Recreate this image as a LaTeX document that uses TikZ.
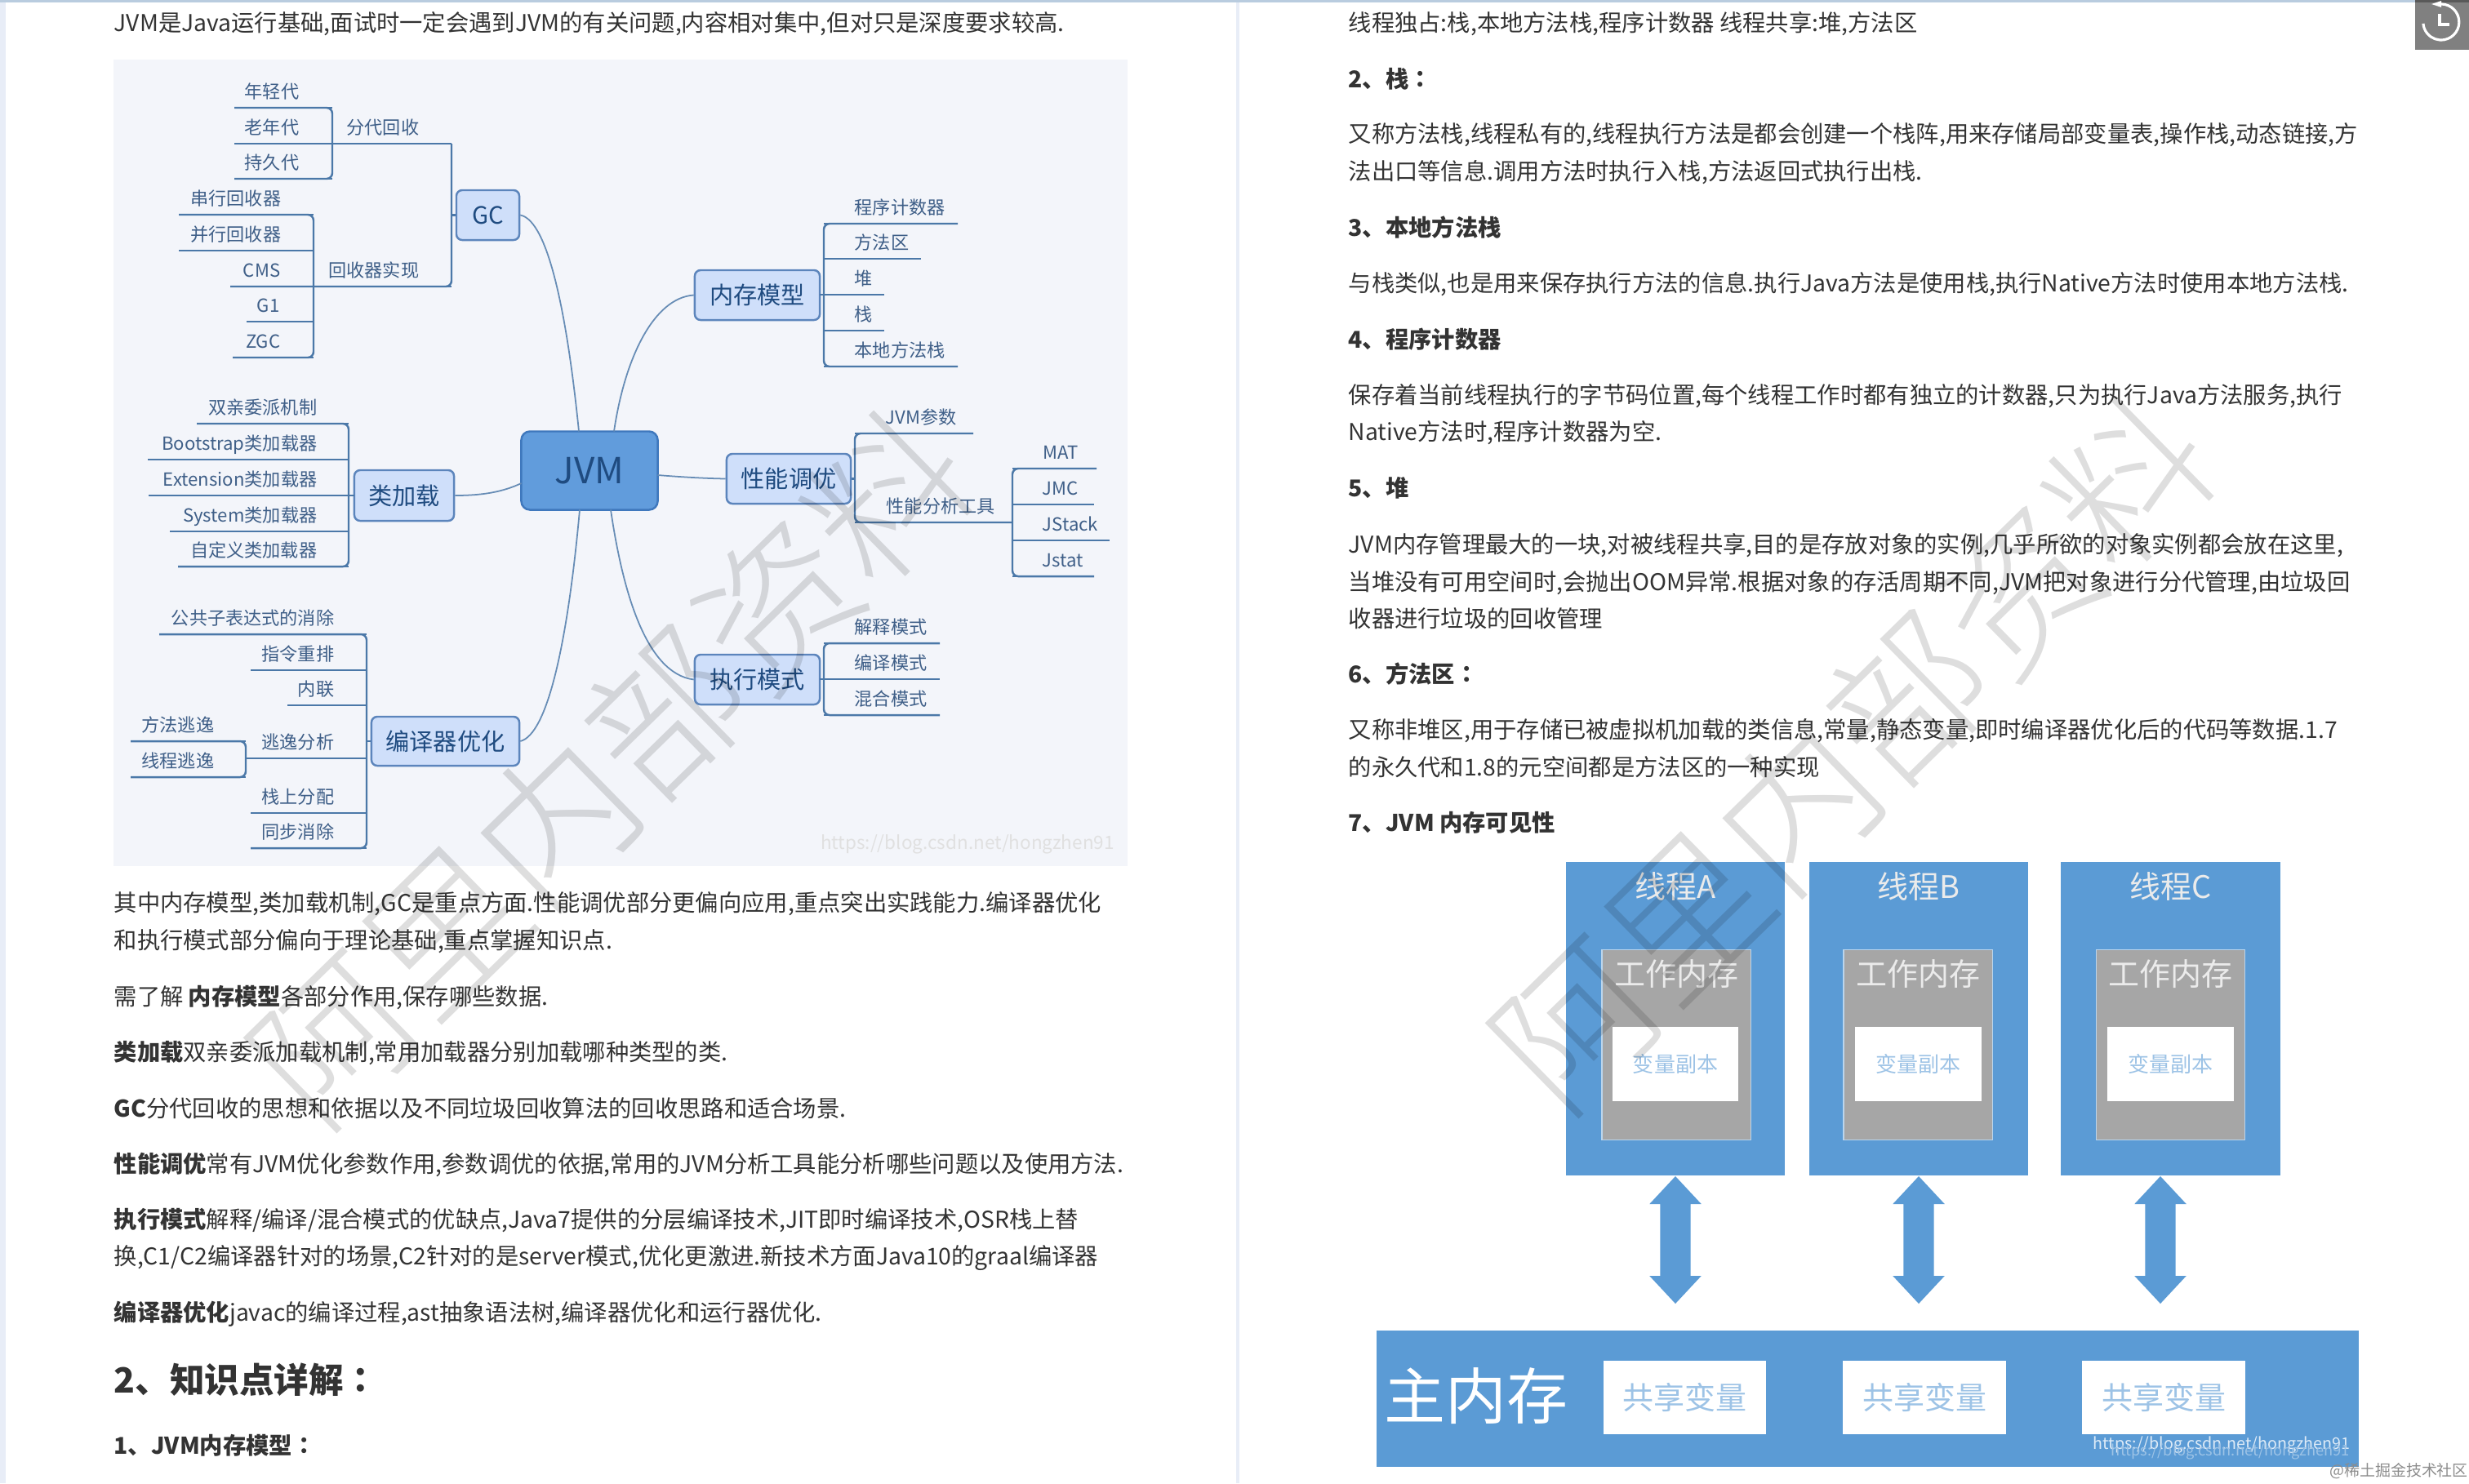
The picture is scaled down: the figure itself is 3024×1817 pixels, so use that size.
\documentclass[tikz,border=0pt]{standalone}
\usepackage{fontspec}
\setmainfont{Noto Sans CJK SC}
\newfontfamily\colonfont{Noto Sans CJK TC}
\newfontfamily\stampfont{Noto Sans CJK SC Light}
\usetikzlibrary{shapes.arrows}

\definecolor{inkbody}{HTML}{333333}
\definecolor{inkmap}{HTML}{3F5F88}
\definecolor{inkdeep}{HTML}{1F4B80}
\definecolor{branchblue}{HTML}{4B78A8}
\definecolor{hubedge}{HTML}{5C85BC}
\definecolor{hubfill}{HTML}{CFDFFA}
\definecolor{rootfill}{HTML}{619CDC}
\definecolor{rootedge}{HTML}{3F78BD}
\definecolor{mapback}{HTML}{F3F5FA}
\definecolor{threadblue}{HTML}{5B9BD5}
\definecolor{copytext}{HTML}{9DC3E6}
\definecolor{stripblue}{HTML}{B9CCDF}
\definecolor{stripside}{HTML}{E8EDF7}

\tikzset{
  body/.style={anchor=west,inner sep=0pt,text=inkbody,text height=7.1pt,text depth=1pt,font=\fontsize{8.05}{10}\selectfont},
  bodyhead/.style={body,font=\fontsize{8.05}{10}\selectfont\bfseries},
  leaf/.style={inner sep=0pt,text=inkmap,text height=5.5pt,text depth=.8pt,font=\fontsize{6.3}{8}\selectfont},
  branch/.style={draw=branchblue,line width=.7pt},
  link/.style={draw=branchblue!85!white,line width=.5pt},
  hub/.style={draw=hubedge,line width=.7pt,fill=hubfill,rounded corners=2pt,inner sep=0pt,text=inkdeep,text height=7.3pt,text depth=1pt,font=\fontsize{8.3}{10}\selectfont},
  thread/.style={fill=threadblue,minimum width=2.68cm,minimum height=3.84cm,inner sep=0pt},
  workmem/.style={fill=black!35,draw=copytext!70!white,line width=.3pt,minimum width=1.82cm,minimum height=2.32cm,inner sep=0pt},
  varcopy/.style={fill=white,minimum width=1.54cm,minimum height=.91cm,inner sep=0pt,text=copytext,font=\fontsize{7.4}{9}\selectfont},
  shared/.style={fill=white,minimum width=1.99cm,minimum height=.9cm,inner sep=0pt,text=copytext,font=\fontsize{10.8}{12}\selectfont},
  twoway/.style={shape=double arrow,fill=threadblue,rotate=90,minimum height=1.56cm,inner xsep=0pt,inner ysep=.18cm,
    double arrow head extend=.13cm,double arrow tip angle=86,double arrow head indent=0pt},
  stamp/.style={text=black,text opacity=.13,inner sep=0pt,rotate=44.4,font=\fontsize{54}{60}\stampfont},
}

\begin{document}
\begin{tikzpicture}[x=0.01cm,y=-0.01cm]
  \useasboundingbox (0,0) rectangle (3024,1817);
  % page frame
  \fill[stripside] (0,0) rectangle (7,1817);
  \fill[stripside] (1514,0) rectangle (1518,1817);
  \fill[stripblue] (0,0) rectangle (3024,3);

  % left column
  \node[body] (introa) at (139,28) {JVM是Java运行基础,面试时一定会遇到JVM的有关问题,内容相对集中,但对只是深度要求较高.};
  \node[body] (textb) at (139,1105.5) {其中内存模型,类加载机制,GC是重点方面.性能调优部分更偏向应用,重点突出实践能力.编译器优化};
  \node[body] (textc) at (139,1152) {和执行模式部分偏向于理论基础,重点掌握知识点.};
  \node[body] (textd) at (139,1220.5) {需了解 \textbf{内存模型}各部分作用,保存哪些数据.};
  \node[body] (texte) at (139,1288.5) {\textbf{类加载}双亲委派加载机制,常用加载器分别加载哪种类型的类.};
  \node[body] (textf) at (139,1357.5) {\textbf{GC}分代回收的思想和依据以及不同垃圾回收算法的回收思路和适合场景.};
  \node[body] (textg) at (139,1425.5) {\textbf{性能调优}常有JVM优化参数作用,参数调优的依据,常用的JVM分析工具能分析哪些问题以及使用方法.};
  \node[body] (texth) at (139,1493.5) {\textbf{执行模式}解释/编译/混合模式的优缺点,Java7提供的分层编译技术,JIT即时编译技术,OSR栈上替};
  \node[body] (texti) at (139,1538.5) {换,C1/C2编译器针对的场景,C2针对的是server模式,优化更激进.新技术方面Java10的graal编译器};
  \node[body] (textj) at (139,1607.5) {\textbf{编译器优化}javac的编译过程,ast抽象语法树,编译器优化和运行器优化.};
  \node[body,text height=10.7pt,text depth=1.5pt,font=\fontsize{12.1}{14}\selectfont\bfseries] (headtwo) at (139,1690) {2、知识点详解{\colonfont ：}};
  \node[bodyhead] (headmem) at (139,1771) {1、JVM内存模型{\colonfont ：}};

  % right column
  \node[body] (exclusive) at (1651,28) {线程独占:栈,本地方法栈,程序计数器 线程共享:堆,方法区};
  \node[bodyhead] (headstack) at (1651,97) {2、栈{\colonfont ：}};
  \node[body] (stacka) at (1651,164) {又称方法栈,线程私有的,线程执行方法是都会创建一个栈阵,用来存储局部变量表,操作栈,动态链接,方};
  \node[body] (stackb) at (1651,210) {法出口等信息.调用方法时执行入栈,方法返回式执行出栈.};
  \node[bodyhead] (headnative) at (1651,279) {3、本地方法栈};
  \node[body] (nativea) at (1651,347) {与栈类似,也是用来保存执行方法的信息.执行Java方法是使用栈,执行Native方法时使用本地方法栈.};
  \node[bodyhead] (headpc) at (1651,416) {4、程序计数器};
  \node[body] (pca) at (1651,484) {保存着当前线程执行的字节码位置,每个线程工作时都有独立的计数器,只为执行Java方法服务,执行};
  \node[body] (pcb) at (1651,529) {Native方法时,程序计数器为空.};
  \node[bodyhead] (headheap) at (1651,598) {5、堆};
  \node[body] (heapa) at (1651,667) {JVM内存管理最大的一块,对被线程共享,目的是存放对象的实例,几乎所欲的对象实例都会放在这里,};
  \node[body] (heapb) at (1651,713) {当堆没有可用空间时,会抛出OOM异常.根据对象的存活周期不同,JVM把对象进行分代管理,由垃圾回};
  \node[body] (heapc) at (1651,758) {收器进行垃圾的回收管理};
  \node[bodyhead] (headarea) at (1651,826) {6、方法区{\colonfont ：}};
  \node[body] (areaa) at (1651,894) {又称非堆区,用于存储已被虚拟机加载的类信息,常量,静态变量,即时编译器优化后的代码等数据.1.7};
  \node[body] (areab) at (1651,940) {的永久代和1.8的元空间都是方法区的一种实现};
  \node[bodyhead] (headsee) at (1651,1008) {7、JVM 内存可见性};

  % mind map
  \fill[mapback] (139,73) rectangle (1381,1061);
  \node[draw=rootedge,line width=.7pt,fill=rootfill,rounded corners=3pt,minimum width=1.67cm,minimum height=.96cm,inner sep=0pt,text=inkdeep,font=\fontsize{12.5}{14}\selectfont] (jvm) at (722,576.5) {JVM};
  \node[hub,minimum width=.77cm,minimum height=.61cm] (gc) at (597.5,263.5) {GC};
  \node[hub,minimum width=1.22cm,minimum height=.62cm] (loader) at (495,607) {类加载};
  \node[hub,minimum width=1.81cm,minimum height=.6cm] (compiler) at (545.5,908) {编译器优化};
  \node[hub,minimum width=1.53cm,minimum height=.61cm] (memmodel) at (927.5,361.5) {内存模型};
  \node[hub,minimum width=1.52cm,minimum height=.61cm] (tuning) at (966,586.5) {性能调优};
  \node[hub,minimum width=1.53cm,minimum height=.61cm] (execmode) at (927.5,832.5) {执行模式};

  % leaves on the left: name/right edge/y/line from/line to/text
  \foreach \n/\r/\y/\a/\b/\t in {young/367/112/287/407/年轻代,old/367/156/287/553/老年代,perm/367/199/287/407/持久代,
      serial/345/243/219/384/串行回收器,parallel/345/287/219/384/并行回收器,cms/344/331/282/553/CMS,
      gone/343/374/302/384/G1,zgc/344/418/285/384/ZGC,
      parents/389/499/241/427/双亲委派机制,boot/389/543/181/427/Bootstrap类加载器,ext/389/587/182/434/Extension类加载器,
      sys/389/631/208/427/System类加载器,custom/389/674/218/427/自定义类加载器,
      subexpr/410/757/195/449/公共子表达式的消除,reorder/410/801/307/449/指令重排,inline/410/844/352/449/内联,
      escape/410/909/302/449/逃逸分析,methodesc/263/888/160/301/方法逃逸,threadesc/263/932/160/301/线程逃逸,
      stackalloc/410/976/307/449/栈上分配,syncdrop/410/1019/307/449/同步消除} {
    \node[leaf,anchor=east] (\n) at (\r,\y) {\t};
    \coordinate (\n-a) at (\a,\y+20);
    \coordinate (\n-b) at (\b,\y+20);
    \draw[branch] (\n-a) -- (\n-b);
  }
  \node[leaf,anchor=east] (gencollect) at (514,156) {分代回收};
  \node[leaf,anchor=east] (collectimpl) at (514,331) {回收器实现};

  % leaves on the right
  \foreach \n/\l/\y/\a/\b/\t in {pc/1046/254/1009/1173/程序计数器,area/1046/297/1009/1128/方法区,heap/1046/341/1004/1083/堆,
      stack/1046/385/1009/1083/栈,native/1046/429/1009/1173/本地方法栈,
      jvmargs/1084/511/1047/1192/JVM参数,perftools/1085/620/1047/1240/性能分析工具,
      mat/1277/554/1240/1343/MAT,jmc/1276/598/1240/1340/JMC,jstack/1276/642/1240/1359/JStack,jstat/1276/686/1240/1340/Jstat,
      interp/1046/768/1009/1151/解释模式,jit/1046/812/1004/1151/编译模式,mixed/1046/856/1009/1151/混合模式} {
    \node[leaf,anchor=west] (\n) at (\l,\y) {\t};
    \coordinate (\n-a) at (\a,\y+20);
    \coordinate (\n-b) at (\b,\y+20);
    \draw[branch] (\n-a) -- (\n-b);
  }

  % brackets
  \draw[branch,rounded corners=2pt] (young-a) -- (young-b) -- (perm-b) -- (perm-a);
  \draw[branch,rounded corners=2pt] (old-b) -- (cms-b) -- (cms-a);
  \draw[branch,rounded corners=2pt] (serial-a) -- (serial-b) -- (zgc-b) -- (zgc-a);
  \draw[branch,rounded corners=2pt] (parents-a) -- (parents-b) -- (custom-b) -- (custom-a);
  \draw[branch,rounded corners=2pt] (subexpr-a) -- (subexpr-b) -- (syncdrop-b) -- (syncdrop-a);
  \draw[branch,rounded corners=2pt] (methodesc-a) -- (methodesc-b) -- (threadesc-b) -- (threadesc-a);
  \draw[branch,rounded corners=2pt] (pc-b) -- (pc-a) -- (native-a) -- (native-b);
  \draw[branch,rounded corners=2pt] (jvmargs-b) -- (jvmargs-a) -- (perftools-a) -- (perftools-b);
  \draw[branch,rounded corners=2pt] (mat-b) -- (mat-a) -- (jstat-a) -- (jstat-b);
  \draw[branch,rounded corners=2pt] (interp-b) -- (interp-a) -- (mixed-a) -- (mixed-b);
  \coordinate (gcbar) at (553,263.5);
  \coordinate (compbar) at (449,908);
  \coordinate (tunebar) at (1047,586.5);
  \draw[branch] (gcbar) -- (gc);
  \draw[branch] (compbar) -- (compiler);
  \draw[branch] (tunebar) -- (tuning);

  % links to the root
  \coordinate (jvmgc) at (709,528.5);
  \coordinate (jvmmem) at (752,528.5);
  \coordinate (jvmcomp) at (710,624.5);
  \coordinate (jvmexec) at (748,624.5);
  \coordinate (jvmload) at (638.5,592);
  \coordinate (jvmtune) at (805.5,582);
  \draw[link] (gc.east) .. controls (672,270) and (695,390) .. (jvmgc);
  \draw[link] (memmodel.west) .. controls (800,365) and (765,440) .. (jvmmem);
  \draw[link] (loader.east) .. controls (590,607) and (615,603) .. (jvmload);
  \draw[link] (tuning.west) .. controls (860,586) and (830,584) .. (jvmtune);
  \draw[link] (compiler.east) .. controls (670,900) and (695,790) .. (jvmcomp);
  \draw[link] (execmode.west) .. controls (790,825) and (762,720) .. (jvmexec);
  \node[inner sep=0pt,text=white!88!black,font=\fontsize{6.4}{8}\selectfont] (mapurl) at (1185,1034) {https://blog.csdn.net/hongzhen91};

  % threads and main memory
  \foreach \n/\tx/\wx/\vx/\ax/\t in {a/2052/2053/2052/2052/线程A,b/2350/2349/2349.5/2350/线程B,c/2658.5/2658.5/2658.5/2646/线程C} {
    \node[thread] (thread\n) at (\tx,1248) {};
    \node[workmem] (work\n) at (\wx,1280) {};
    \node[inner sep=0pt,text=white!92!black,font=\fontsize{10.8}{12}\selectfont] (worklabel\n) at (\wx,1193) {工作内存};
    \node[varcopy] (copy\n) at (\vx,1303.5) {变量副本};
    \node[inner sep=0pt,text=white!92!black,font=\fontsize{10.8}{12}\selectfont] (threadlabel\n) at (\tx,1086) {\t};
    \node[twoway] (arrow\n) at (\ax,1519) {};
  }
  \node[fill=threadblue,minimum width=12.03cm,minimum height=1.67cm,inner sep=0pt] (mainmem) at (2287.5,1713.5) {};
  \node[inner sep=0pt,text=white,font=\fontsize{21.3}{24}\selectfont] (mainlabel) at (1808,1710) {主内存};
  \node[shared] (sharea) at (2063.5,1712) {共享变量};
  \node[shared] (shareb) at (2357,1712) {共享变量};
  \node[shared] (sharec) at (2650,1712) {共享变量};
  \node[inner sep=0pt,text=white!80!threadblue,font=\fontsize{5.6}{8}\selectfont] (memurl) at (2721,1770) {https://blog.csdn.net/hongzhen91};
  \node[inner sep=0pt,text=white!40!threadblue,font=\fontsize{5.2}{8}\selectfont] (memurlb) at (2732,1778) {https://blog.csdn.net/hongzhen91};
  \node[inner sep=0pt,text=black!45,font=\fontsize{5.4}{7}\selectfont] (siteowner) at (2938,1802) {@稀土掘金技术社区};

  % clock button
  \fill[black!50] (2958,0) rectangle (3024,61);
  \fill[black!65] (2958,0) rectangle (3024,3);
  \draw[white,line width=.9pt] (2986,5.3) arc[start angle=100,end angle=-175,radius=.22cm];
  \fill[white] (2978,5) -- (2990,1) -- (2990,9) -- cycle;
  \draw[white,line width=.9pt] (2988,17) -- (2988,30) -- (3000,30);

  % stamps
  \node[stamp] (stampleft) at (748,940) {阿里内部资料};
  \node[stamp] (stampright) at (2269,922) {阿里内部资料};
\end{tikzpicture}
\end{document}
